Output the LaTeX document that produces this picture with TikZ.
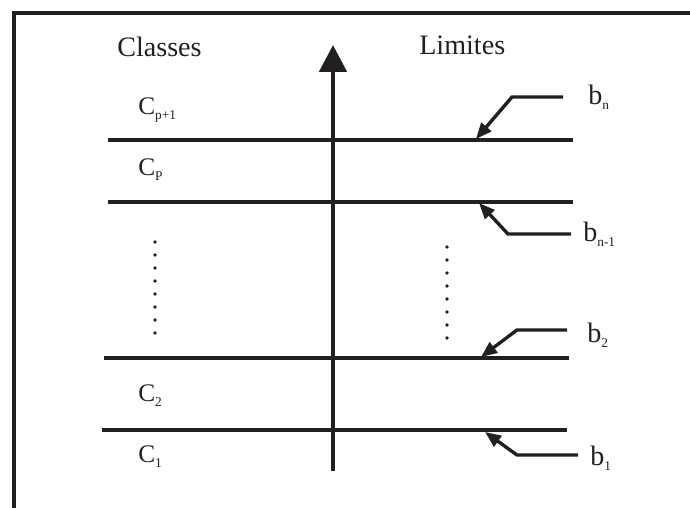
\documentclass[tikz,border=0pt]{standalone}
\usepackage{fontspec}
\setmainfont{Liberation Serif}
\usepackage{xcolor}
\definecolor{inkblk}{RGB}{35,31,32}
\usetikzlibrary{arrows.meta,positioning}
\newcommand{\lsub}[1]{\raisebox{-3.5pt}{\fontsize{9.5}{11}\selectfont #1}}
\tikzset{
  lbl/.style={inner sep=0pt, anchor=base west, text=inkblk, font=\fontsize{20}{24}\selectfont},
  clbl/.style={inner sep=0pt, anchor=base west, text=inkblk, font=\fontsize{18}{22}\selectfont},
  bound/.style={draw=inkblk, line width=2.5pt},
  leader/.style={draw=inkblk, line width=2.4pt, -{Triangle[width=0.32cm,length=0.4cm]}},
  vdot/.style={fill=inkblk}
}

\begin{document}
\begin{tikzpicture}
  \useasboundingbox (0,0) rectangle (17.25,12.7);

  % Frame (top and left edges)
  \draw[inkblk, line width=2.8pt, line join=miter] (0.35,0) -- (0.35,12.375) -- (17.25,12.375);

  % Headings
  \node[lbl] (classes) at (2.925,11.275) {Classes};
  \node[lbl] (limites) at (10.475,11.325) {Limites};

  % Vertical axis
  \coordinate (axisbot) at (8.325,0.925);
  \coordinate (axistop) at (8.325,11.575);
  \draw[inkblk, line width=3.5pt, -{Triangle[width=0.675cm,length=0.675cm]}] (axisbot) -- (axistop);

  % Class boundaries
  \coordinate (l1w) at (2.7,9.2);   \coordinate (l1e) at (14.325,9.2);
  \coordinate (l2w) at (2.7,7.65);  \coordinate (l2e) at (14.325,7.65);
  \coordinate (l3w) at (2.6,3.75);  \coordinate (l3e) at (14.225,3.75);
  \coordinate (l4w) at (2.55,1.95); \coordinate (l4e) at (14.175,1.95);
  \draw[bound] (l1w) -- (l1e);
  \draw[bound] (l2w) -- (l2e);
  \draw[bound] (l3w) -- (l3e);
  \draw[bound] (l4w) -- (l4e);

  % Class names
  \node[clbl] (cp1) at (3.45,9.825) {C\lsub{p+1}};
  \node[clbl] (cp) at (3.45,8.3) {C\lsub{P}};
  \node[clbl] (c2) at (3.45,2.65) {C\lsub{2}};
  \node[clbl] (c1) at (3.45,1.125) {C\lsub{1}};

  % Ellipsis dots
  \foreach \i in {0,...,7} {
    \fill[vdot] (3.875,6.65-\i*0.325) circle (0.045);
    \fill[vdot] (11.175,6.525-\i*0.325) circle (0.045);
  }

  % Limit labels
  \node[lbl] (bn) at (14.7,10.075) {b\lsub{n}};
  \node[lbl] (bn1) at (14.575,6.65) {b\lsub{n-1}};
  \node[lbl] (b2) at (14.675,4.125) {b\lsub{2}};
  \node[lbl] (b1) at (14.75,1.05) {b\lsub{1}};

  % Leaders to the boundaries
  \coordinate (bnS) at (14.075,10.275); \coordinate (bnK) at (12.8,10.275);  \coordinate (bnT) at (11.9,9.225);
  \coordinate (bn1S) at (14.275,6.85);  \coordinate (bn1K) at (12.7,6.85);   \coordinate (bn1T) at (11.975,7.625);
  \coordinate (b2S) at (14.175,4.45);   \coordinate (b2K) at (12.925,4.45);  \coordinate (b2T) at (12.025,3.775);
  \coordinate (b1S) at (14.45,1.325);   \coordinate (b1K) at (12.925,1.325); \coordinate (b1T) at (12.125,1.9);
  \draw[leader] (bnS) -- (bnK) -- (bnT);
  \draw[leader] (bn1S) -- (bn1K) -- (bn1T);
  \draw[leader] (b2S) -- (b2K) -- (b2T);
  \draw[leader] (b1S) -- (b1K) -- (b1T);
\end{tikzpicture}
\end{document}
